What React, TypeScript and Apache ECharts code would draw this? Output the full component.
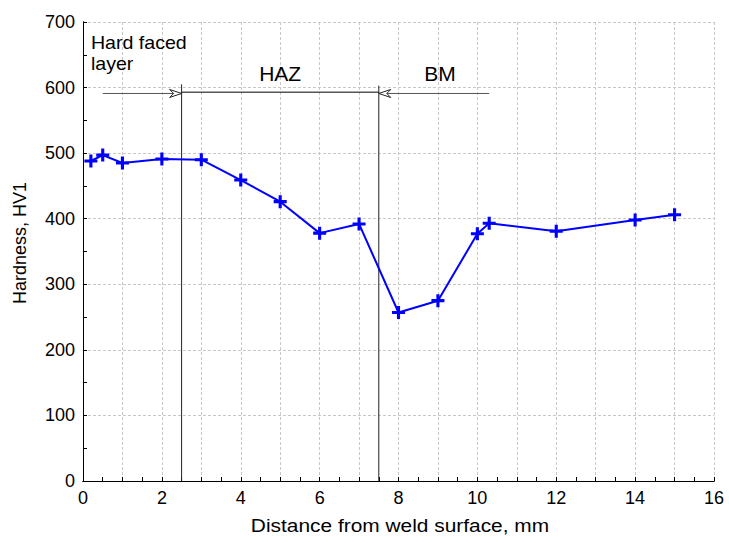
import React, { useEffect, useRef } from "react";
import * as echarts from "echarts";

const distance = [0.2, 0.5, 1, 2, 3, 4, 5, 6, 7, 8, 9, 10, 10.3, 12, 14, 15];
const hardness = [488, 497, 485, 491, 490, 459, 426, 378, 392, 257, 275, 377, 393, 381, 398, 406];

const xTicks = [0, 2, 4, 6, 8, 10, 12, 14, 16];
const yTicks = [0, 100, 200, 300, 400, 500, 600, 700];

const xTitle = "Distance from weld surface, mm";
const yTitle = "Hardness, HV1";

// annotation segments: [x1, y1, x2, y2, arrowAtEnd, colorIndex]
const segments = [
  [2.5, 0, 2.5, 605, 0, 1],
  [7.5, 0, 7.5, 603, 0, 1],
  [0.5, 591, 2.5, 591, 1, 2],
  [2.5, 593, 7.5, 593, 0, 0],
  [10.3, 591, 7.5, 591, 1, 2],
];
const segColors = ["#000000", "#222222", "#555555"];

const zoneLabels = ["Hard faced\nlayer", "HAZ", "BM"];
const zoneX = [0.2, 5, 9.05];
const zoneY = [685, 621, 621];
const zoneAlign = ["left", "center", "center"];
const zoneVAlign = ["top", "middle", "middle"];
const zoneFontSize = [18.5, 21, 21];
const zoneScaleX = [1.06, 1, 1];

const plusPath = "path://M3.8,0 H6.2 V3.8 H10 V6.2 H6.2 V10 H3.8 V6.2 H0 V3.8 H3.8 Z";

export default function App() {
  const ref = useRef<HTMLDivElement>(null);
  useEffect(() => {
    const chart = echarts.init(ref.current!, null, { renderer: "svg" });
    const font = "'Liberation Sans', Arial, sans-serif";
    const frameAxis = {
      type: "value",
      axisLabel: { show: false },
      axisTick: { show: false },
      splitLine: { show: false },
      axisLine: { show: true, lineStyle: { color: "#000", width: 1 } },
    };
    chart.setOption({
      animation: false,
      backgroundColor: "#ffffff",
      grid: { left: 83, right: 15, top: 22, bottom: 62 },
      xAxis: [
        {
          type: "value",
          min: 0,
          max: 16,
          interval: 1,
          axisLine: { show: true, lineStyle: { color: "#000", width: 1 } },
          axisTick: { show: true, inside: true, length: 4, lineStyle: { color: "#000" } },
          minorTick: { show: true, splitNumber: 2, length: 4, lineStyle: { color: "#000" } },
          axisLabel: {
            fontFamily: font,
            fontSize: 18,
            color: "#000",
            margin: 8,
            formatter: (v: number) => (xTicks.indexOf(v) >= 0 ? String(v) : ""),
          },
          splitLine: { show: true, lineStyle: { color: "#c8c8c8", type: [3, 2], width: 1 } },
        },
        { ...frameAxis, position: "top", min: 0, max: 16 },
      ],
      yAxis: [
        {
          type: "value",
          min: 0,
          max: 700,
          interval: 100,
          axisLine: { show: true, lineStyle: { color: "#000", width: 1 } },
          axisTick: { show: true, inside: true, length: 4, lineStyle: { color: "#000" } },
          minorTick: { show: true, splitNumber: 2, length: 4, lineStyle: { color: "#000" } },
          axisLabel: {
            fontFamily: font,
            fontSize: 18,
            color: "#000",
            margin: 8,
            formatter: (v: number) => (yTicks.indexOf(v) >= 0 ? String(v) : ""),
          },
          splitLine: { show: true, lineStyle: { color: "#c8c8c8", type: [3, 2], width: 1 } },
        },
        { ...frameAxis, position: "right", min: 0, max: 700 },
      ],
      graphic: [
        {
          type: "text",
          x: 400,
          y: 525,
          scaleX: 1.13,
          style: {
            text: xTitle,
            fill: "#000",
            fontFamily: font,
            fontSize: 18.5,
            align: "center",
            verticalAlign: "middle",
          },
        },
        {
          type: "text",
          x: 20,
          y: 243,
          rotation: Math.PI / 2,
          style: {
            text: yTitle,
            fill: "#000",
            fontFamily: font,
            fontSize: 18,
            align: "center",
            verticalAlign: "middle",
          },
        },
      ],
      series: [
        {
          type: "custom",
          silent: true,
          z: 1,
          encode: { x: [0, 2], y: [1, 3] },
          data: segments,
          renderItem: (params: any, api: any) => {
            const p1 = api.coord([api.value(0), api.value(1)]);
            const p2 = api.coord([api.value(2), api.value(3)]);
            const arrow = api.value(4);
            const color = segColors[api.value(5)];
            const children: any[] = [
              {
                type: "line",
                shape: { x1: p1[0], y1: p1[1], x2: p2[0], y2: p2[1] },
                style: { stroke: color, lineWidth: 1 },
              },
            ];
            if (arrow) {
              const dx = p2[0] - p1[0];
              const dy = p2[1] - p1[1];
              const len = Math.sqrt(dx * dx + dy * dy) || 1;
              const ux = dx / len;
              const uy = dy / len;
              const nx = -uy;
              const ny = ux;
              const L = 12;
              const W = 4;
              children.push({
                type: "polygon",
                shape: {
                  points: [
                    [p2[0] - ux * L + nx * W, p2[1] - uy * L + ny * W],
                    [p2[0], p2[1]],
                    [p2[0] - ux * L - nx * W, p2[1] - uy * L - ny * W],
                    [p2[0] - ux * 8, p2[1] - uy * 8],
                  ],
                },
                style: { fill: "#fff", stroke: "#222", lineWidth: 1 },
              });
            }
            return { type: "group", children };
          },
        },
        {
          type: "custom",
          silent: true,
          z: 3,
          data: zoneX.map((x, i) => [x, zoneY[i]]),
          renderItem: (params: any, api: any) => {
            const i = params.dataIndex;
            const p = api.coord([api.value(0), api.value(1)]);
            return {
              type: "text",
              x: p[0],
              y: p[1],
              scaleX: zoneScaleX[i],
              style: {
                text: zoneLabels[i],
                fill: "#000",
                fontFamily: font,
                fontSize: zoneFontSize[i],
                lineHeight: 21,
                align: zoneAlign[i],
                verticalAlign: zoneVAlign[i],
              },
            };
          },
        },
        {
          type: "line",
          z: 4,
          data: distance.map((x, i) => [x, hardness[i]]),
          lineStyle: { color: "#0000ff", width: 2 },
          itemStyle: { color: "#0000ff" },
          symbol: plusPath,
          symbolSize: 13,
          showSymbol: true,
        },
      ],
    });
    return () => chart.dispose();
  }, []);
  return (
    <div
      ref={ref}
      style={{ position: "absolute", left: 0, top: 0, width: 729, height: 543 }}
    />
  );
}
